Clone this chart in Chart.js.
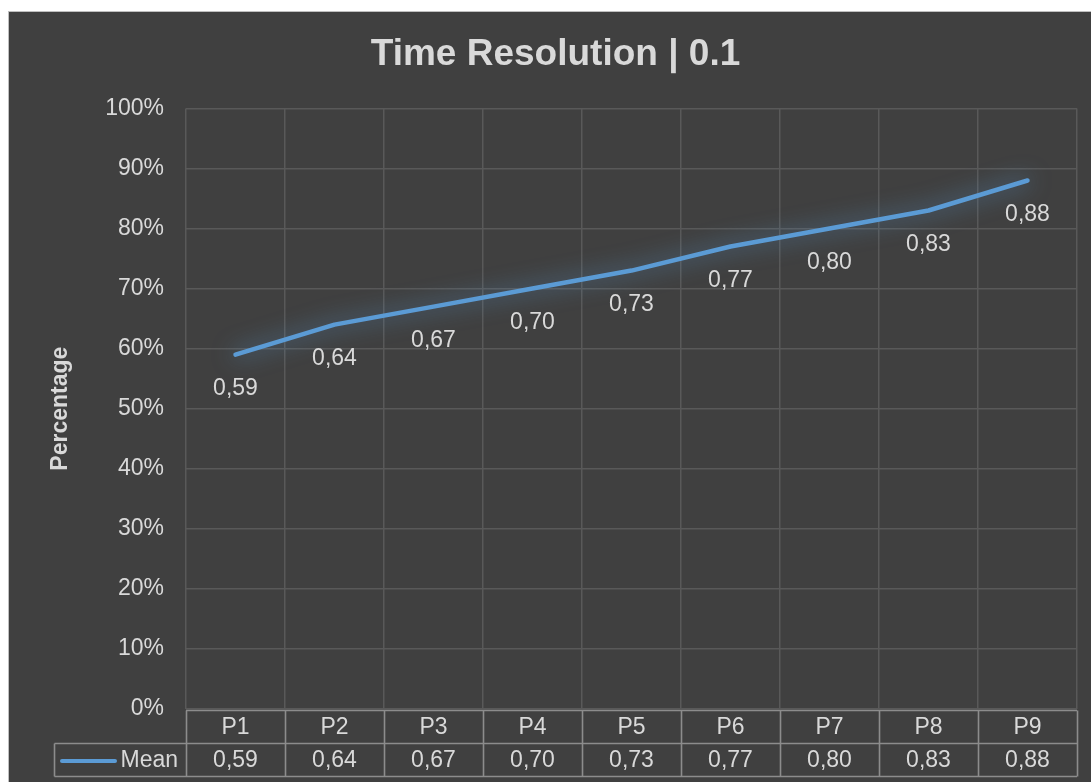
<!DOCTYPE html>
<html><head><meta charset="utf-8">
<script src="https://cdn.jsdelivr.net/npm/chart.js@4.4.1/dist/chart.umd.min.js"></script>
<style>html,body{margin:0;padding:0;background:#fff;overflow:hidden}#wrap{position:relative;width:1091px;height:782px}</style>
</head><body><div id="wrap"><canvas id="c" width="1091" height="782"></canvas></div>
<script>
const chartTitle = 'Time Resolution | 0.1';
const yAxisTitle = 'Percentage';
const seriesName = 'Mean';
const categories = ['P1', 'P2', 'P3', 'P4', 'P5', 'P6', 'P7', 'P8', 'P9'];
const meanValues = [0.59, 0.64, 0.67, 0.70, 0.73, 0.77, 0.80, 0.83, 0.88];
const yMin = 0, yMax = 1, yStep = 0.1;

const FONT = '"Liberation Sans", Arial, sans-serif';
const TEXT = '#d9d9d9';
const LINE = '#5b9bd5';
const fmt = v => v.toFixed(2).replace('.', ',');

const bgPlugin = {
  id: 'bg',
  beforeDraw(chart) {
    const ctx = chart.ctx;
    ctx.save();
    ctx.fillStyle = '#ffffff';
    ctx.fillRect(0, 0, chart.width, chart.height);
    ctx.fillStyle = '#404040';
    ctx.fillRect(8, 11, chart.width - 8, chart.height - 11);
    ctx.strokeStyle = '#bfbfbf';
    ctx.lineWidth = 1;
    ctx.strokeRect(8.5, 11.5, chart.width + 10, chart.height + 10);
    ctx.restore();
  }
};

const glowPlugin = {
  id: 'glow',
  beforeDatasetDraw(chart) {
    const ctx = chart.ctx;
    ctx.save();
    ctx.shadowColor = 'rgba(91,155,213,0.8)';
    ctx.shadowBlur = 22;
  },
  afterDatasetDraw(chart) { chart.ctx.restore(); }
};

const labelPlugin = {
  id: 'dlabels',
  afterDatasetsDraw(chart) {
    const ctx = chart.ctx;
    const meta = chart.getDatasetMeta(0);
    ctx.save();
    ctx.font = '23px ' + FONT;
    ctx.fillStyle = TEXT;
    ctx.textAlign = 'center';
    ctx.textBaseline = 'middle';
    meta.data.forEach((pt, i) => {
      ctx.fillText(fmt(meanValues[i]), pt.x, pt.y + 34);
    });
    ctx.restore();
  }
};

const tablePlugin = {
  id: 'dtable',
  afterDraw(chart) {
    const ctx = chart.ctx;
    const xs = chart.scales.x;
    const area = chart.chartArea;
    const n = categories.length;
    const w = (area.right - area.left) / n;
    const y0 = area.bottom + 1.5, y1 = y0 + 33, y2 = y1 + 33;
    const legLeft = 54.5;
    ctx.save();
    ctx.strokeStyle = '#8c8c8c';
    ctx.lineWidth = 1.6;
    ctx.beginPath();
    ctx.moveTo(area.left, y0); ctx.lineTo(area.right, y0);
    ctx.moveTo(legLeft, y1); ctx.lineTo(area.right, y1);
    ctx.moveTo(legLeft, y2); ctx.lineTo(area.right, y2);
    ctx.moveTo(legLeft, y1); ctx.lineTo(legLeft, y2);
    for (let i = 0; i <= n; i++) {
      const x = Math.round(area.left + i * w) + 0.5;
      ctx.moveTo(x, y0); ctx.lineTo(x, y2);
    }
    ctx.stroke();
    ctx.font = '23px ' + FONT;
    ctx.fillStyle = TEXT;
    ctx.textAlign = 'center';
    ctx.textBaseline = 'middle';
    categories.forEach((c, i) => {
      const cx = xs.getPixelForValue(i);
      ctx.fillText(c, cx, (y0 + y1) / 2 + 1);
      ctx.fillText(fmt(meanValues[i]), cx, (y1 + y2) / 2 + 1);
    });
    ctx.textAlign = 'right';
    ctx.fillText(seriesName, area.left - 8, (y1 + y2) / 2 + 1);
    ctx.strokeStyle = LINE;
    ctx.lineWidth = 4;
    ctx.lineCap = 'round';
    ctx.beginPath();
    ctx.moveTo(62, (y1 + y2) / 2 + 1);
    ctx.lineTo(115, (y1 + y2) / 2 + 1);
    ctx.stroke();
    ctx.restore();
  }
};

new Chart(document.getElementById('c'), {
  type: 'line',
  data: {
    labels: categories,
    datasets: [{
      label: seriesName,
      data: meanValues,
      borderColor: LINE,
      borderWidth: 4.5,
      pointRadius: 0,
      tension: 0,
      borderJoinStyle: 'round',
      borderCapStyle: 'round',
      fill: false
    }]
  },
  options: {
    responsive: false,
    animation: false,
    devicePixelRatio: 1,
    layout: { padding: { left: 34, right: 14, top: 0, bottom: 73 } },
    plugins: {
      legend: { display: false },
      tooltip: { enabled: false },
      title: {
        display: true,
        text: chartTitle,
        color: TEXT,
        font: { family: FONT, size: 37, weight: 'bold' },
        padding: { top: 33, bottom: 31 }
      }
    },
    scales: {
      x: {
        type: 'category',
        offset: true,
        grid: { display: true, offset: true, color: '#595959', lineWidth: 1.5, drawTicks: false },
        border: { display: false },
        ticks: { display: false }
      },
      y: {
        min: yMin, max: yMax,
        afterFit(s) { s.width = 152; },
        grid: { color: '#595959', lineWidth: 1.5, drawTicks: false },
        border: { display: false },
        ticks: {
          stepSize: yStep,
          padding: 22,
          color: TEXT,
          font: { family: FONT, size: 23 },
          callback: v => Math.round(v * 100) + '%'
        },
        title: {
          display: true,
          text: yAxisTitle,
          color: TEXT,
          font: { family: FONT, size: 23, weight: 'bold' },
          padding: { top: 13, bottom: 0 }
        }
      }
    }
  },
  plugins: [bgPlugin, glowPlugin, labelPlugin, tablePlugin]
});
</script>
</body></html>
